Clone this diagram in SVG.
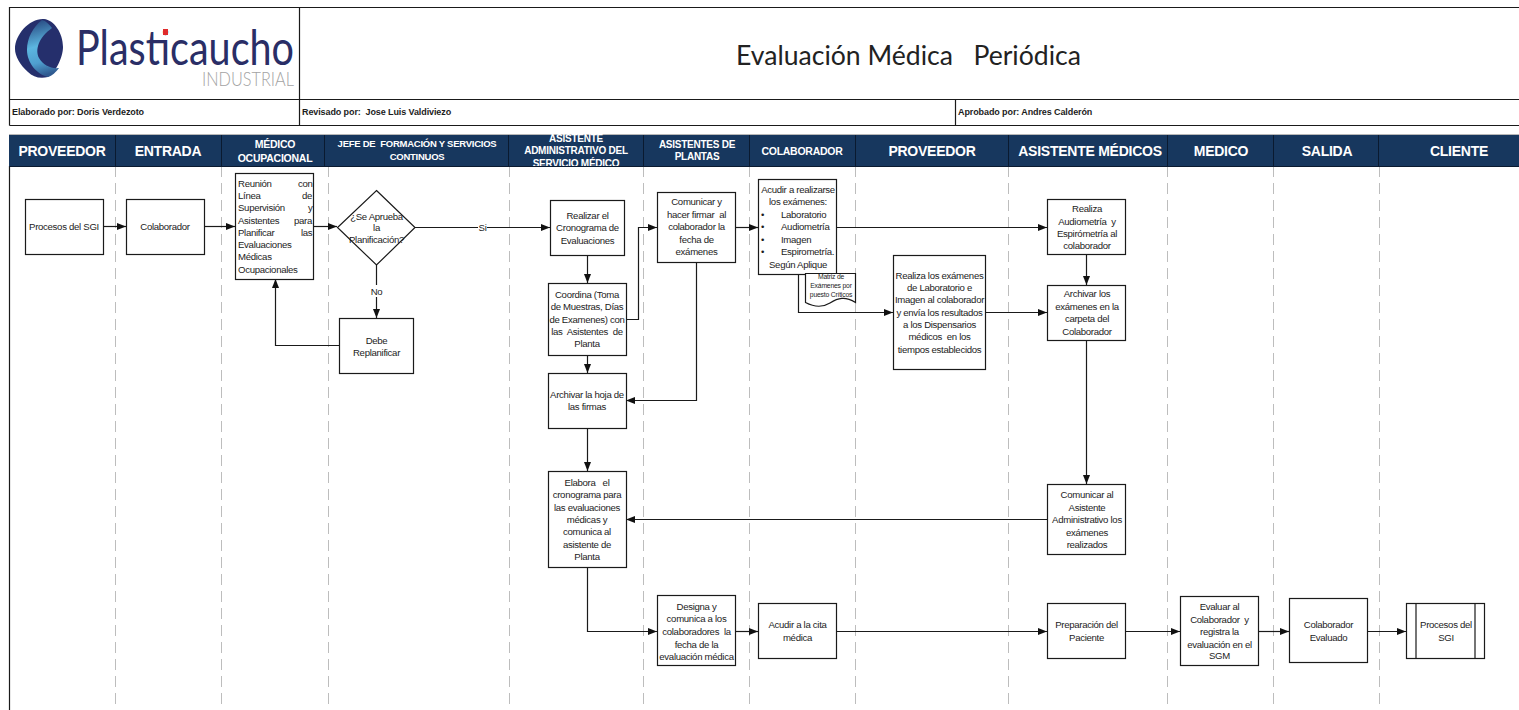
<svg xmlns="http://www.w3.org/2000/svg" width="1519" height="710" viewBox="0 0 1519 710">
<style>
text{font-family:"Liberation Sans",Arial,sans-serif;fill:#1c1c1c}
.t{font-size:9.600px;letter-spacing:-.3px;text-anchor:middle}
.l{font-size:9.600px;letter-spacing:-.3px}
.b{fill:#fff;stroke:#1a1a1a;stroke-width:1.200}
.c{fill:none;stroke:#1a1a1a;stroke-width:1.200;marker-end:url(#a)}
.n{fill:none;stroke:#1a1a1a;stroke-width:1.200}
.d{stroke:#bdbdbd;stroke-width:1;stroke-dasharray:11 6;fill:none}
.h{font-weight:bold;fill:#fff;text-anchor:middle;letter-spacing:-.25px}
.m{font-size:9px;font-weight:bold;letter-spacing:-.1px}
.s{stroke:#0a1a30;stroke-width:1}
.f{stroke:#1a1a1a;stroke-width:1.200;fill:none}
.p{font-size:6.800px;text-anchor:middle;letter-spacing:-.2px}
</style>
<defs>
<marker id="a" markerUnits="userSpaceOnUse" markerWidth="10" markerHeight="8" refX="9" refY="4" orient="auto"><path d="M0 0.500L9 4L0 7.500z" fill="#111"/></marker>
<linearGradient id="g" gradientUnits="userSpaceOnUse" x1="42" y1="20" x2="56" y2="72"><stop offset="0" stop-color="#2a4f86"/><stop offset=".45" stop-color="#5cb6e0"/><stop offset=".75" stop-color="#4f9fcf"/><stop offset="1" stop-color="#2f5a90"/></linearGradient>
<clipPath id="k"><rect x="509" y="132" width="134" height="34"/></clipPath>
</defs>
<rect width="1519" height="710" fill="#fff"/>
<g id="marco">
<path class="f" d="M1519 7.500H9.500V125.500M9.500 166V710M9.500 99.500H1519M9.500 125.500H1519M299.500 7.500V125.500M955.500 99.500V125.500"/>
</g>
<g id="logo">
<path d="M44 19C54 20 63 33 63 47C63 58 55 73 48 77C40 79 33 77 28 72C20 65 15 56 15 49C15 34 30 18 44 19Z" fill="#252f6c"/>
<path d="M42 20C33 27 27 38 27 50C27 62 36 74 48 77C52 76 56 72 59 68C51 69 43 65 39 58C35 50 38 38 52 28C49 24 46 21 42 20Z" fill="url(#g)"/>
<text x="76" y="65" font-size="49" textLength="218" lengthAdjust="spacingAndGlyphs" style="font-family:Lato,'Open Sans',sans-serif;font-weight:400;fill:#2a2e66">Plasticaucho</text>
<rect x="163" y="29" width="5" height="6" fill="#e02b2b"/>
<text x="202" y="86" font-size="19" textLength="92" lengthAdjust="spacingAndGlyphs" style="font-family:Lato,'Open Sans',sans-serif;font-weight:300;fill:#a3a3a3">INDUSTRIAL</text>
</g>
<text x="736" y="65" font-size="26" textLength="345" lengthAdjust="spacingAndGlyphs" style="font-family:Lato,'Open Sans',sans-serif;fill:#222" xml:space="preserve">Evaluación Médica   Periódica</text>
<text class="m" x="12" y="115">Elaborado por: Doris Verdezoto</text>
<text class="m" x="302" y="115" xml:space="preserve">Revisado por:  Jose Luis Valdiviezo</text>
<text class="m" x="958" y="115">Aprobado por: Andres Calderón</text>

<g id="carriles">
<path class="d" d="M115.500 166V710M221.500 166V710M328.500 166V710M509.500 166V710M643.500 166V710M749.500 166V710M855.500 166V710M1008.500 166V710M1167.500 166V710M1273.500 166V710M1379.500 166V710"/>
<rect x="9" y="135" width="1510" height="31" fill="#17375e"/>
<path d="M9 134.500H1519" stroke="#b8b8b8"/>
<path d="M9 166.500H1519" stroke="#0a1a30"/>
<path class="s" d="M115.500 135V166M221.500 135V166M324.500 135V166M508.500 135V166M643.500 135V166M749.500 135V166M855.500 135V166M1008.500 135V166M1167.500 135V166M1273.500 135V166M1378.500 135V166"/>
<text class="h" font-size="14" x="62" y="156">PROVEEDOR</text>
<text class="h" font-size="14" x="168" y="156">ENTRADA</text>
<text class="h" font-size="10.500" x="275" y="148">MÉDICO</text>
<text class="h" font-size="10.500" x="275" y="162">OCUPACIONAL</text>
<text class="h" font-size="9.500" x="417" y="147" xml:space="preserve">JEFE DE  FORMACIÓN Y SERVICIOS</text>
<text class="h" font-size="9.500" x="417" y="160">CONTINUOS</text>
<g clip-path="url(#k)">
<text class="h" font-size="10" x="576" y="141.500">ASISTENTE</text>
<text class="h" font-size="10" x="576" y="154">ADMINISTRATIVO DEL</text>
<text class="h" font-size="10" x="576" y="167">SERVICIO MÉDICO</text>
</g>
<text class="h" font-size="10" x="697" y="147.500">ASISTENTES DE</text>
<text class="h" font-size="10" x="697" y="160">PLANTAS</text>
<text class="h" font-size="10.500" x="802" y="154.500">COLABORADOR</text>
<text class="h" font-size="14" x="932" y="156">PROVEEDOR</text>
<text class="h" font-size="14" x="1090" y="156">ASISTENTE MÉDICOS</text>
<text class="h" font-size="14" x="1221" y="156">MEDICO</text>
<text class="h" font-size="14" x="1327" y="156">SALIDA</text>
<text class="h" font-size="14" x="1459" y="156">CLIENTE</text>
</g>

<g id="conectores">
<path class="c" d="M103 226.500H126"/>
<path class="c" d="M204 226.500H235"/>
<path class="c" d="M314 226.500H337"/>
<path class="c" d="M415 227.500H550"/>
<path class="c" d="M376.500 265V318"/>
<path class="c" d="M339 345.500H275.500V279"/>
<path class="c" d="M587.500 255V283"/>
<path class="c" d="M626 319.500H638.500V227.500H657"/>
<path class="c" d="M587.500 355V373"/>
<path class="c" d="M735 227.500H758"/>
<path class="c" d="M696.500 262V400.500H626"/>
<path class="c" d="M587.500 428V471"/>
<path class="c" d="M837 227.500H1047"/>
<path class="c" d="M798.500 274V312.500H893"/>
<path class="c" d="M986 312.500H1047"/>
<path class="c" d="M1086.500 254V285"/>
<path class="c" d="M1086.500 340V484"/>
<path class="c" d="M1047 519.500H626"/>
<path class="c" d="M587.500 567V631.500H657"/>
<path class="c" d="M735 631.500H758"/>
<path class="c" d="M837 631.500H1047"/>
<path class="c" d="M1126 631.500H1180"/>
<path class="c" d="M1258 631.500H1289"/>
<path class="c" d="M1367 631.500H1406"/>
<rect x="478" y="222" width="9" height="11" fill="#fff"/>
<text class="t" x="482.500" y="230.500">Si</text>
<rect x="369" y="285" width="15" height="12" fill="#fff"/>
<text class="t" x="376.500" y="294.500">No</text>
</g>

<g id="n1"><rect class="b" x="25.500" y="199.500" width="78" height="55"/><text class="t" x="64" y="229.500">Procesos del SGI</text></g>
<g id="n2"><rect class="b" x="126.500" y="199.500" width="78" height="55"/><text class="t" x="165" y="229.500">Colaborador</text></g>
<g id="n3"><rect class="b" x="235.500" y="173.500" width="78" height="106"/>
<text class="l" x="238" y="186.500">Reunión<tspan x="298">con</tspan></text>
<text class="l" x="238" y="198.800">Línea<tspan x="302">de</tspan></text>
<text class="l" x="238" y="211">Supervisión<tspan x="308">y</tspan></text>
<text class="l" x="238" y="223.500">Asistentes<tspan x="294">para</tspan></text>
<text class="l" x="238" y="235.500">Planificar<tspan x="301">las</tspan></text>
<text class="l" x="238" y="247.500">Evaluaciones</text>
<text class="l" x="238" y="260">Médicas</text>
<text class="l" x="238" y="272.500">Ocupacionales</text></g>
<g id="n4"><path class="b" d="M376.500 190.500L415 227.500L376.500 265L337.500 227.500Z"/>
<text class="t" x="376.500" y="219.500">¿Se Aprueba</text><text class="t" x="376.500" y="231">la</text><text class="t" x="376.500" y="242.500">Planificación?</text></g>
<g id="n5"><rect class="b" x="339.500" y="318.500" width="74" height="55"/><text class="t" x="376.500" y="343.500">Debe</text><text class="t" x="376.500" y="355.500">Replanificar</text></g>
<g id="n6"><rect class="b" x="550.500" y="200.500" width="74" height="55"/><text class="t" x="587.500" y="218.500">Realizar el</text><text class="t" x="587.500" y="230.500">Cronograma de</text><text class="t" x="587.500" y="243.500">Evaluaciones</text></g>
<g id="n7"><rect class="b" x="548.500" y="283.500" width="78" height="72"/>
<text class="t" x="587" y="297.500">Coordina (Toma</text><text class="t" x="587" y="309.500">de Muestras, Días</text><text class="t" x="587" y="322.500">de Examenes) con</text><text class="t" x="587" y="334.500" xml:space="preserve">las  Asistentes  de</text><text class="t" x="587" y="346.500">Planta</text></g>
<g id="n8"><rect class="b" x="548.500" y="373.500" width="78" height="55"/><text class="t" x="587" y="397.500">Archivar la hoja de</text><text class="t" x="587" y="409.500">las firmas</text></g>
<g id="n9"><rect class="b" x="548.500" y="471.500" width="78" height="96"/>
<text class="t" x="587" y="485.500" xml:space="preserve">Elabora   el</text><text class="t" x="587" y="498">cronograma para</text><text class="t" x="587" y="510.500">las evaluaciones</text><text class="t" x="587" y="522.500">médicas y</text><text class="t" x="587" y="535">comunica al</text><text class="t" x="587" y="547.500">asistente de</text><text class="t" x="587" y="560">Planta</text></g>
<g id="n10"><rect class="b" x="657.500" y="192.500" width="78" height="70"/>
<text class="t" x="696.500" y="204.500">Comunicar y</text><text class="t" x="696.500" y="217.500" xml:space="preserve">hacer firmar  al</text><text class="t" x="696.500" y="229.500">colaborador la</text><text class="t" x="696.500" y="242.500">fecha de</text><text class="t" x="696.500" y="254.500">exámenes</text></g>
<g id="n11"><rect class="b" x="758.500" y="179.500" width="78" height="95"/>
<text class="t" x="798" y="192.500">Acudir a realizarse</text><text class="t" x="798" y="204.500">los exámenes:</text>
<text class="l" x="761" y="217.500">•<tspan x="781">Laboratorio</tspan></text>
<text class="l" x="761" y="229.500">•<tspan x="781">Audiometría</tspan></text>
<text class="l" x="761" y="242.500">•<tspan x="781">Imagen</tspan></text>
<text class="l" x="761" y="254.500">•<tspan x="781">Espirometría.</tspan></text>
<text class="t" x="798" y="267.500">Según Aplique</text></g>
<g id="n12"><path class="b" d="M805.500 273.500H855.500V302.500C845 296 838 298 830 303C822 308 814 307 805.500 302.500Z"/>
<text class="p" x="831" y="278.500">Matriz de</text><text class="p" x="831" y="288">Exámenes por</text><text class="p" x="831" y="297">puesto Críticos</text></g>
<g id="n13"><rect class="b" x="893.500" y="255.500" width="92" height="114"/>
<text class="t" x="939.500" y="278.500">Realiza los exámenes</text><text class="t" x="939.500" y="290.500">de Laboratorio e</text><text class="t" x="939.500" y="302.500">Imagen al colaborador</text><text class="t" x="939.500" y="315.500">y envía los resultados</text><text class="t" x="939.500" y="327.500">a los Dispensarios</text><text class="t" x="939.500" y="339.500" xml:space="preserve">médicos  en los</text><text class="t" x="939.500" y="352.500">tiempos establecidos</text></g>
<g id="n14"><rect class="b" x="1047.500" y="199.500" width="78" height="55"/>
<text class="t" x="1087" y="211.500">Realiza</text><text class="t" x="1087" y="224.500" xml:space="preserve">Audiometría  y</text><text class="t" x="1087" y="236.500">Espirómetría al</text><text class="t" x="1087" y="248.500">colaborador</text></g>
<g id="n15"><rect class="b" x="1047.500" y="285.500" width="78" height="55"/>
<text class="t" x="1087" y="296.500">Archivar los</text><text class="t" x="1087" y="309.500">exámenes en la</text><text class="t" x="1087" y="321.500">carpeta del</text><text class="t" x="1087" y="334.500">Colaborador</text></g>
<g id="n16"><rect class="b" x="1047.500" y="484.500" width="78" height="70"/>
<text class="t" x="1087" y="497.500">Comunicar al</text><text class="t" x="1087" y="510.500">Asistente</text><text class="t" x="1087" y="522.500">Administrativo los</text><text class="t" x="1087" y="535.500">exámenes</text><text class="t" x="1087" y="547.500">realizados</text></g>
<g id="n17"><rect class="b" x="657.500" y="595.500" width="78" height="70"/>
<text class="t" x="696.500" y="609.500">Designa y</text><text class="t" x="696.500" y="621.500">comunica a los</text><text class="t" x="696.500" y="634.500" xml:space="preserve">colaboradores  la</text><text class="t" x="696.500" y="647.500">fecha de la</text><text class="t" x="696.500" y="659.500">evaluación médica</text></g>
<g id="n18"><rect class="b" x="758.500" y="603.500" width="78" height="55"/><text class="t" x="797.500" y="627.500">Acudir a la cita</text><text class="t" x="797.500" y="640.500">médica</text></g>
<g id="n19"><rect class="b" x="1047.500" y="603.500" width="78" height="55"/><text class="t" x="1086.500" y="627.500">Preparación del</text><text class="t" x="1086.500" y="640.500">Paciente</text></g>
<g id="n20"><rect class="b" x="1180.500" y="596.500" width="78" height="69"/>
<text class="t" x="1219.500" y="609.500">Evaluar al</text><text class="t" x="1219.500" y="622.500" xml:space="preserve">Colaborador  y</text><text class="t" x="1219.500" y="634.500">registra la</text><text class="t" x="1219.500" y="647.500">evaluación en el</text><text class="t" x="1219.500" y="658.500">SGM</text></g>
<g id="n21"><rect class="b" x="1289.500" y="598.500" width="78" height="64"/><text class="t" x="1328.500" y="627.500">Colaborador</text><text class="t" x="1328.500" y="640.500">Evaluado</text></g>
<g id="n22"><rect class="b" x="1406.500" y="603.500" width="78" height="55"/><path class="n" d="M1416 603.500V658.500M1475 603.500V658.500"/><text class="t" x="1446" y="627.500">Procesos del</text><text class="t" x="1446" y="640.500">SGI</text></g>
</svg>
